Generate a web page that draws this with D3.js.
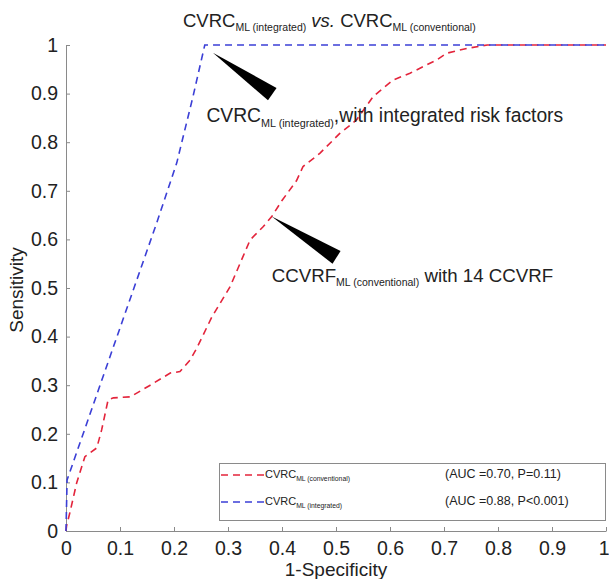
<!DOCTYPE html>
<html>
<head>
<meta charset="utf-8">
<script src="https://cdn.jsdelivr.net/npm/d3@7"></script>
<style>
body { margin: 0; background: #fff; }
text { font-family: "Liberation Sans", Arial, sans-serif; fill: #222; }
</style>
</head>
<body>
<script>
var width = 609, height = 579;

// ROC curve points (1-specificity, sensitivity)
var convFpr = [0, 0.001, 0.007, 0.02, 0.035, 0.057, 0.066, 0.078, 0.088, 0.119, 0.156, 0.193, 0.211, 0.23, 0.242, 0.27, 0.304, 0.341, 0.365, 0.381, 0.40, 0.427, 0.439, 0.47, 0.507, 0.526, 0.538, 0.569, 0.587, 0.606, 0.637, 0.686, 0.705, 0.742, 0.78, 1];
var convTpr = [0, 0.01, 0.037, 0.1, 0.153, 0.171, 0.208, 0.27, 0.274, 0.276, 0.30, 0.325, 0.328, 0.352, 0.376, 0.44, 0.503, 0.599, 0.626, 0.647, 0.68, 0.721, 0.75, 0.777, 0.818, 0.835, 0.846, 0.894, 0.911, 0.928, 0.942, 0.969, 0.983, 0.993, 1.0, 1.0];
var intFpr = [0, 0.002, 0.085, 0.168, 0.205, 0.235, 0.257, 1];
var intTpr = [0, 0.105, 0.37, 0.634, 0.757, 0.893, 1, 1];

var ticks = [0, 0.1, 0.2, 0.3, 0.4, 0.5, 0.6, 0.7, 0.8, 0.9, 1];
var legendNames = ["conventional", "integrated"];
var legendStats = ["(AUC =0.70, P=0.11)", "(AUC =0.88, P<0.001)"];
var colors = ["#e3243b", "#3b3fd6"];

var x = d3.scaleLinear().domain([0, 1]).range([66, 606]);
var y = d3.scaleLinear().domain([0, 1]).range([531, 45]);

var svg = d3.select("body").append("svg")
    .attr("width", width).attr("height", height);

var fmt = function(d){ return (d === 0 || d === 1) ? String(d) : d.toFixed(1); };

// axes (ticks pointing inward, gray lines)
var xAxis = svg.append("g").attr("transform", "translate(0," + y(0) + ")")
    .call(d3.axisBottom(x).tickValues(ticks).tickFormat(fmt).tickSizeInner(-4).tickSizeOuter(0).tickPadding(9));
var yAxis = svg.append("g").attr("transform", "translate(" + x(0) + ",0)")
    .call(d3.axisLeft(y).tickValues(ticks).tickFormat(fmt).tickSizeInner(-4).tickSizeOuter(0).tickPadding(8));
[xAxis, yAxis].forEach(function(a){
    a.select(".domain").attr("stroke", "#8a8a8a");
    a.selectAll(".tick line").attr("stroke", "#8a8a8a");
    a.selectAll(".tick text").attr("font-size", 19.5).attr("font-family", "Liberation Sans, Arial, sans-serif").attr("fill", "#222");
});
xAxis.selectAll(".tick text").attr("dy", "0.78em");
// keep the last x label inside the window
xAxis.selectAll(".tick text").filter(function(d){ return d === 1; }).attr("text-anchor", "end").attr("x", 3);

// curves
var line = d3.line().x(function(d){ return x(d[0]); }).y(function(d){ return y(d[1]); });
var curves = [d3.zip(convFpr, convTpr), d3.zip(intFpr, intTpr)];
svg.selectAll(".roc").data(curves).enter().append("path")
    .attr("class", "roc")
    .attr("d", line)
    .attr("fill", "none")
    .attr("stroke", function(d, i){ return colors[i]; })
    .attr("stroke-width", 1.6)
    .attr("stroke-dasharray", "7,5");

// helper: text with an "ML (...)" subscript
function subText(g, px, py, size, subSize, main, sub, rest) {
    var t = g.append("text").attr("x", px).attr("y", py).attr("font-size", size);
    t.append("tspan").text(main);
    t.append("tspan").attr("font-size", subSize).attr("dy", size * 0.25).text(sub);
    if (rest) t.append("tspan").attr("dy", -size * 0.25).text(rest);
    return t;
}

// title
var title = svg.append("text").attr("x", 183).attr("y", 27).attr("font-size", 18.5);
title.append("tspan").text("CVRC");
title.append("tspan").attr("font-size", 10.5).attr("dy", 4).text("ML (integrated)");
title.append("tspan").attr("dy", -4).attr("font-style", "italic").text(" vs.");
title.append("tspan").text(" CVRC");
title.append("tspan").attr("font-size", 10.5).attr("dy", 4).text("ML (conventional)");

// annotation wedges: tip on the curve, wide base away from it
var wedges = [
    {tip: [0.272, 0.984], base: [0.382, 0.899]},
    {tip: [0.381, 0.647], base: [0.501, 0.563]}
];
svg.selectAll(".wedge").data(wedges).enter().append("path")
    .attr("class", "wedge")
    .attr("fill", "#000")
    .attr("d", function(d){
        var tx = x(d.tip[0]), ty = y(d.tip[1]), bx = x(d.base[0]), by = y(d.base[1]);
        var dx = bx - tx, dy = by - ty, len = Math.sqrt(dx * dx + dy * dy);
        var nx = -dy / len * 7.5, ny = dx / len * 7.5;
        return "M" + tx + "," + ty + "L" + (bx + nx) + "," + (by + ny) + "L" + (bx - nx) + "," + (by - ny) + "Z";
    });

subText(svg, x(0.26), y(0.841), 19.3, 10.8, "CVRC", "ML (integrated)", ",with integrated risk factors");
subText(svg, x(0.381), y(0.513), 18.7, 10.5, "CCVRF", "ML (conventional)", " with 14 CCVRF");

// legend
var lg = svg.append("g");
lg.append("rect").attr("x", 219.5).attr("y", 463.5).attr("width", 386).attr("height", 57)
    .attr("fill", "#fff").attr("stroke", "#8a8a8a").attr("stroke-width", 1);
legendNames.forEach(function(n, i){
    var ly = 475 + i * 27;
    lg.append("line").attr("x1", 221).attr("x2", 265).attr("y1", ly).attr("y2", ly)
        .attr("stroke", colors[i]).attr("stroke-width", 1.6).attr("stroke-dasharray", "7,5");
    subText(lg, 265, ly + 3, 11, 6.8, "CVRC", "ML (" + n + ")");
    lg.append("text").attr("x", 445).attr("y", ly + 3).attr("font-size", 12.5).text(legendStats[i]);
});

// axis titles
svg.append("text").attr("x", 336).attr("y", 576).attr("text-anchor", "middle").attr("font-size", 19).text("1-Specificity");
svg.append("text").attr("transform", "translate(23,290) rotate(-90)").attr("text-anchor", "middle").attr("font-size", 19).text("Sensitivity");
</script>
</body>
</html>
